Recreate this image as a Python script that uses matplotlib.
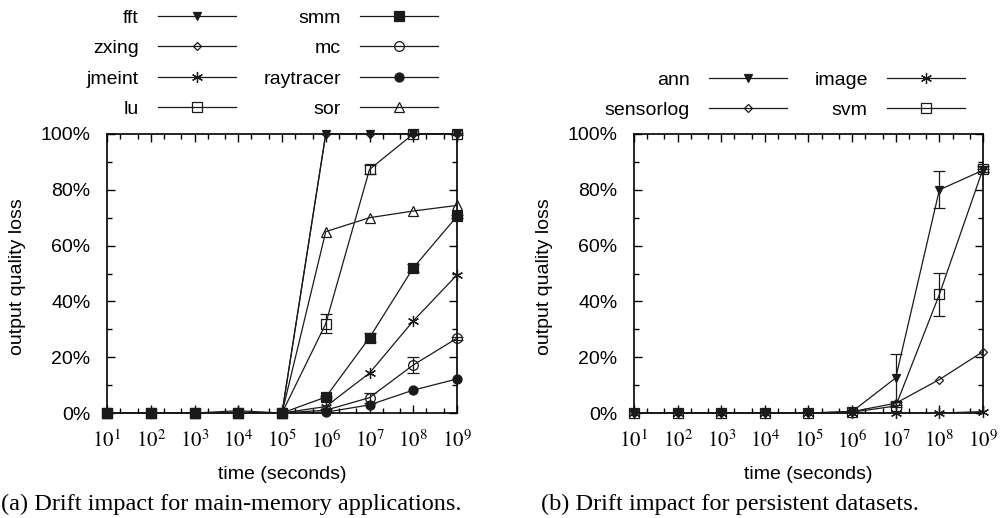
import numpy as np
import matplotlib.pyplot as plt
from matplotlib.ticker import LogLocator, MultipleLocator, PercentFormatter, NullFormatter

plt.rcParams['font.family'] = ['Liberation Sans', 'DejaVu Sans']
plt.rcParams['mathtext.fontset'] = 'stix'

# x axis: time in seconds, 10^1 .. 10^9
times = [1e1, 1e2, 1e3, 1e4, 1e5, 1e6, 1e7, 1e8, 1e9]
xtick_labels = ['$10^{%d}$' % k for k in range(1, 10)]

# (a) main-memory applications, output quality loss in %
fft = [0, 0, 0, 0, 0, 100, 100, 100, 100]
zxing = [0, 0, 0, 0, 0, 100, 100, 100, 100]
jmeint = [0, 0, 0, 0.8, 0, 2.3, 14.3, 33, 49.5]
lu = [0, 0, 0, 0, 0, 32, 87.3, 100, 100]
smm = [0, 0, 0, 0, 0, 5.7, 27, 52, 70.5]
mc = [0, 0, 0, 0, 0, 1, 5.5, 17.2, 26.8]
raytracer = [0, 0, 0, 0, 0, 0.3, 2.9, 8.2, 12.2]
sor = [0, 0, 0, 0, 0, 65, 70, 72.4, 74.4]

lu_err = [0, 0, 0, 0, 0, 3.5, 1.5, 0.5, 0.5]
smm_err = [0, 0, 0, 0, 0, 0.5, 1.5, 1.5, 0.5]
mc_err = [0, 0, 0, 0, 0, 0.5, 1.8, 3, 0.5]

# (b) persistent datasets
ann = [0, 0, 0, 0, 0, 0.5, 12.6, 80, 87]
sensorlog = [0, 0, 0, 0, 0, 0.5, 3.5, 12, 22]
image = [0, 0, 0, 0, 0, 0, 0, 0, 0.5]
svm = [0, 0, 0, 0, 0, 0.3, 2.5, 42.5, 87.5]

ann_err = [0, 0, 0, 0, 0, 0, 8.7, 6.7, 0.5]
svm_err = [0, 0, 0, 0, 0, 0, 0.5, 7.8, 1]

W, H = 1004, 518
fig = plt.figure(figsize=(W / 100, H / 100), dpi=100)


def box(x0, x1, y0, y1):
    return [x0 / W, 1 - y1 / H, (x1 - x0) / W, (y1 - y0) / H]


axL = fig.add_axes(box(107, 457, 134, 413))
axR = fig.add_axes(box(634, 983, 134, 413))

star = (6, 2, 0)
# name, values, errors, marker, filled, size
left_series = [
    ('fft', fft, None, 'v', True, 5.5),
    ('zxing', zxing, None, 'D', False, 4.5),
    ('jmeint', jmeint, None, star, True, 8),
    ('lu', lu, lu_err, 's', False, 7),
    ('smm', smm, smm_err, 's', True, 7.5),
    ('mc', mc, mc_err, 'o', False, 7),
    ('raytracer', raytracer, None, 'o', True, 6.5),
    ('sor', sor, None, '^', False, 6.5),
]
right_series = [
    ('ann', ann, ann_err, 'v', True, 5.5),
    ('sensorlog', sensorlog, None, 'D', False, 4.5),
    ('image', image, None, star, True, 8),
    ('svm', svm, svm_err, 's', False, 7),
]


def draw(ax, series):
    x = np.array(times)
    for name, vals, err, mk, filled, ms in series:
        ax.plot(x, vals, color='#1a1a1a', lw=0.9, marker=mk, ms=ms,
                mfc='#1a1a1a' if filled else 'none', mec='#1a1a1a', mew=0.9,
                label=name, clip_on=False, zorder=3)
        if err is not None:
            e = np.array(err)
            m = e > 0
            ax.errorbar(x[m], np.array(vals)[m], yerr=e[m], fmt='none',
                        ecolor='#1a1a1a', elinewidth=0.9, capsize=4.5,
                        capthick=0.9, clip_on=False, zorder=3)

    ax.set_xscale('log')
    ax.set_xlim(1e1, 1e9)
    ax.set_ylim(0, 100)
    ax.set_xticks(times)
    ax.set_xticklabels(xtick_labels)
    ax.xaxis.set_minor_locator(LogLocator(base=10, subs=(2, 5), numticks=50))
    ax.xaxis.set_minor_formatter(NullFormatter())
    ax.yaxis.set_major_locator(MultipleLocator(20))
    ax.yaxis.set_minor_locator(MultipleLocator(10))
    ax.yaxis.set_major_formatter(PercentFormatter(xmax=100, decimals=0))
    ax.tick_params(which='both', direction='in', top=True, right=True, width=1)
    ax.tick_params(which='major', length=6)
    ax.tick_params(which='minor', length=3.5)
    ax.tick_params(axis='y', labelsize=14, pad=12)
    ax.tick_params(axis='x', labelsize=15, pad=12)
    for s in ax.spines.values():
        s.set_linewidth(1.2)
    ax.set_xlabel('time (seconds)', fontsize=14)
    ax.xaxis.set_label_coords(0.5, -0.19)
    ax.set_ylabel('output quality loss', fontsize=14)
    ax.yaxis.set_label_coords(-0.232, 0.49)


draw(axL, left_series)
draw(axR, right_series)

leg_kw = dict(ncol=2, markerfirst=False, frameon=False, loc='upper right',
              bbox_transform=fig.transFigure, handlelength=4.0,
              handletextpad=1.0, columnspacing=1.4, labelspacing=0.66,
              borderpad=0, borderaxespad=0, fontsize=14)
axL.legend(bbox_to_anchor=(438 / W, 1 - 9 / H), **leg_kw)
axR.legend(bbox_to_anchor=(965 / W, 1 - 71 / H), **leg_kw)

fig.text(231 / W, 1 - 510 / H, '(a) Drift impact for main-memory applications.',
         ha='center', va='baseline', fontsize=17.5, family='Liberation Serif')
fig.text(730 / W, 1 - 510 / H, '(b) Drift impact for persistent datasets.',
         ha='center', va='baseline', fontsize=17.5, family='Liberation Serif')

fig.savefig('out.png', dpi=100)
